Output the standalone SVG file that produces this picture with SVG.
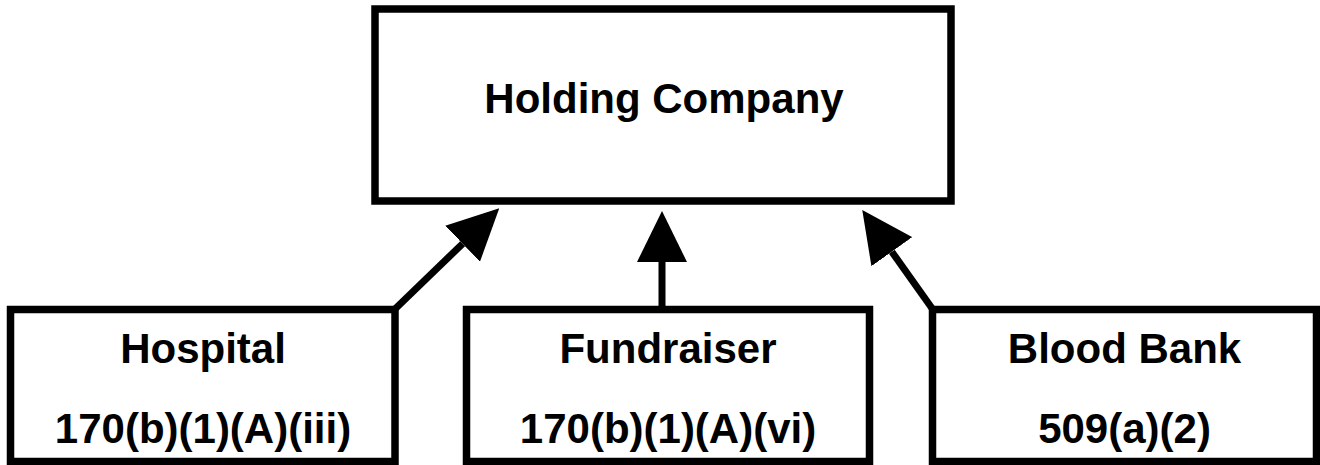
<svg xmlns="http://www.w3.org/2000/svg" width="1320" height="465" viewBox="0 0 1320 465">
  <style>
    .box { fill: #ffffff; stroke: #000000; stroke-width: 7.5; }
    .label { font-family: "Liberation Sans", Arial, sans-serif; font-weight: bold; font-size: 42px; fill: #000000; text-anchor: middle; }
    .link { stroke: #000000; stroke-width: 7; fill: none; marker-end: url(#head); }
  </style>
  <defs>
    <marker id="head" viewBox="0 0 51 50" refX="0" refY="25" markerWidth="51" markerHeight="50" markerUnits="userSpaceOnUse" orient="auto">
      <path d="M0,0 L51,25 L0,50 Z" fill="#000000"/>
    </marker>
  </defs>
  <rect width="1320" height="465" fill="#ffffff"/>

  <g id="connectors">
    <line class="link" x1="395" y1="309" x2="462.6" y2="243.7"/>
    <line class="link" x1="662" y1="309" x2="662" y2="262"/>
    <line class="link" x1="932.5" y1="309" x2="891.8" y2="251.7"/>
  </g>

  <g id="holding-company">
    <rect class="box" x="375" y="9" width="576" height="192"/>
    <text class="label" x="664" y="113">Holding Company</text>
  </g>

  <g id="hospital">
    <rect class="box" x="10.5" y="309.5" width="384.5" height="152"/>
    <text class="label" x="203" y="363">Hospital</text>
    <text class="label" x="203" y="443">170(b)(1)(A)(iii)</text>
  </g>

  <g id="fundraiser">
    <rect class="box" x="466.5" y="309.5" width="403" height="152"/>
    <text class="label" x="668" y="363">Fundraiser</text>
    <text class="label" x="668" y="443">170(b)(1)(A)(vi)</text>
  </g>

  <g id="blood-bank">
    <rect class="box" x="932.5" y="309.5" width="384" height="152"/>
    <text class="label" x="1124.5" y="363">Blood Bank</text>
    <text class="label" x="1124.5" y="443">509(a)(2)</text>
  </g>
</svg>
